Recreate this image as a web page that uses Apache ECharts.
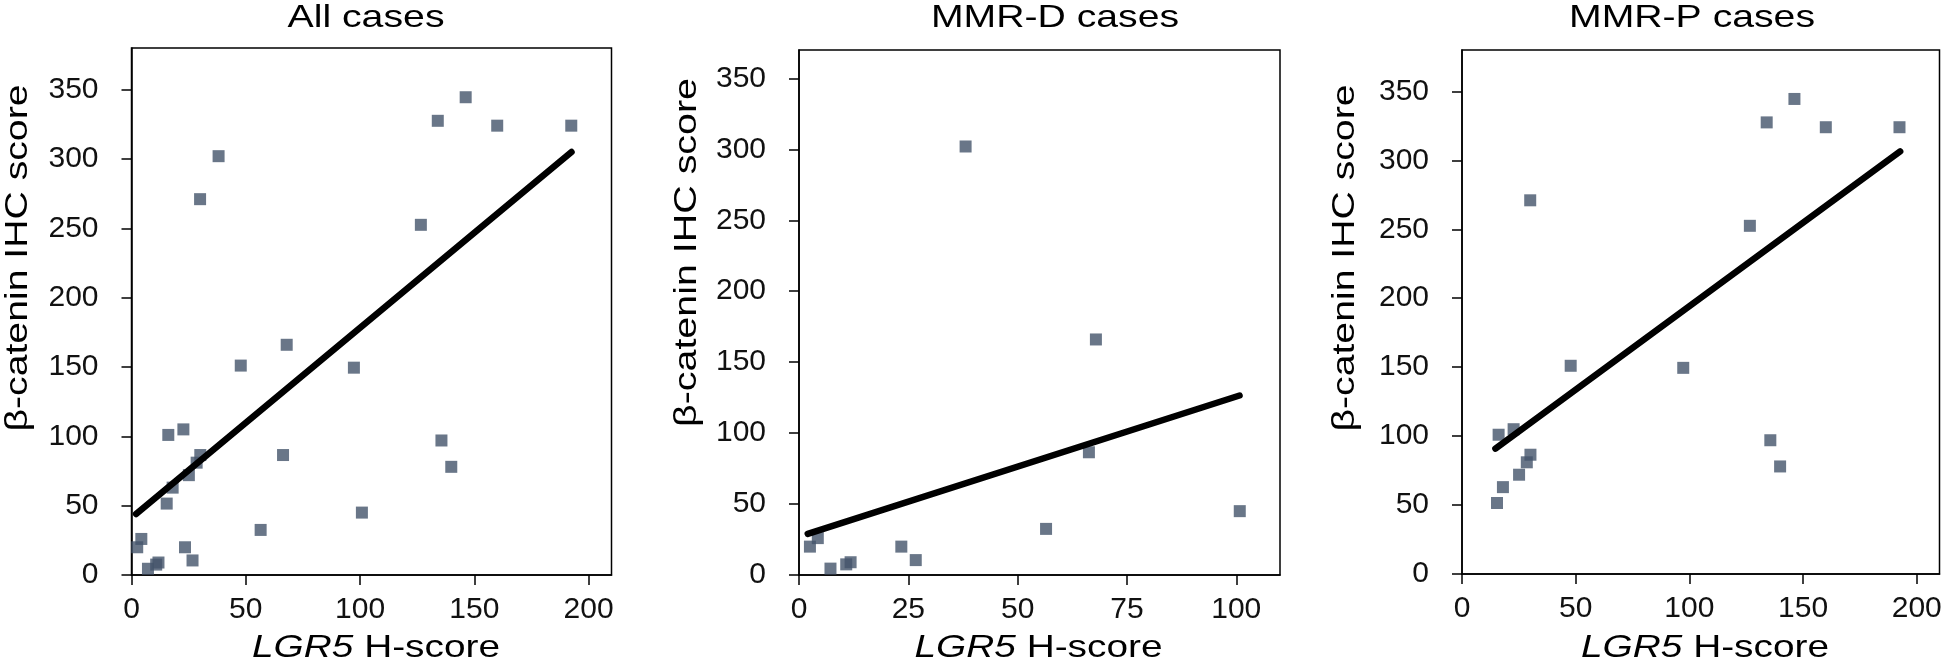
<!DOCTYPE html>
<html><head><meta charset="utf-8">
<script src="https://cdn.jsdelivr.net/npm/echarts@6.0.0/dist/echarts.min.js"></script>
<style>html,body{margin:0;padding:0;background:#fff}#c{width:1946px;height:663px}</style>
</head><body><div id="c"></div>
<script>
// ---- text ----
const panelTitles = ['All cases', 'MMR-D cases', 'MMR-P cases'];
const yAxisTitle = 'β-catenin IHC score';
const xAxisTitleItalic = 'LGR5';
const xAxisTitleRest = ' H-score';

// ---- data (LGR5 H-score, beta-catenin IHC score) ----
const mmrdX = [2.5, 4.3, 7.2, 10.8, 11.8, 23.4, 26.7, 38.1, 56.5, 66.3, 67.9, 100.8];
const mmrdY = [20, 26, 4.5, 7.5, 9, 20, 10.5, 302, 32.5, 86.5, 166, 45];
const mmrpX = [15.4, 16.1, 18, 22.7, 25.1, 28.5, 30.1, 30, 47.8, 97.3, 126.6, 134, 135.6, 139.9, 146.2, 160, 192.4];
const mmrpY = [51.5, 101, 63, 105, 72, 81, 86.5, 271, 151, 149.5, 252.5, 327.5, 97, 78, 344.5, 324, 324];

// trend line end points
const fitAll = [[2, 44], [192.5, 305]];
const fitMmrd = [[2, 29], [100.75, 126.5]];
const fitMmrp = [[14.7, 91], [192.7, 306.5]];

// ---- tick labels ----
const xTicksWide = [0, 50, 100, 150, 200];
const xTicksD = [0, 25, 50, 75, 100];
const yTicks = [0, 50, 100, 150, 200, 250, 300, 350];
const xMaxes = [210, 110, 210];
const yMaxes = [380, 370, 380];

const allX = mmrdX.concat(mmrpX);
const allY = mmrdY.concat(mmrpY);
const pairs = (xs, ys) => xs.map((x, i) => [x, ys[i]]);

const FONT = 'Liberation Sans, Arial, sans-serif';
const grids = [
  {left: 131.5, top: 48, width: 480, height: 527},
  {left: 799, top: 50, width: 481, height: 525},
  {left: 1462, top: 50, width: 477.5, height: 524}
];
const xTickSets = [xTicksWide, xTicksD, xTicksWide];
const scatterData = [pairs(allX, allY), pairs(mmrdX, mmrdY), pairs(mmrpX, mmrpY)];
const fits = [fitAll, fitMmrd, fitMmrp];

// text measuring helper (to stretch titles like the original figure)
const mctx = document.createElement('canvas').getContext('2d');
function textW(str, size, italic) {
  mctx.font = (italic ? 'italic ' : '') + size + 'px "Liberation Sans", Arial, sans-serif';
  return mctx.measureText(str).width;
}

const option = {
  animation: false,
  backgroundColor: '#fff',
  grid: grids.map(g => Object.assign({show: true, borderColor: '#000', borderWidth: 1.5, backgroundColor: 'transparent'}, g)),
  xAxis: grids.map((g, i) => ({
    type: 'value', gridIndex: i, min: 0, max: xMaxes[i], interval: i === 1 ? 25 : 50,
    axisLine: {show: true, onZero: false, lineStyle: {color: '#000', width: 1.5}},
    axisTick: {show: true, length: 10, lineStyle: {color: '#000', width: 1.5}, customValues: xTickSets[i]},
    axisLabel: {show: true, margin: 20, fontSize: 30, fontFamily: FONT, color: '#111', customValues: xTickSets[i]},
    splitLine: {show: false}
  })),
  yAxis: grids.map((g, i) => ({
    type: 'value', gridIndex: i, min: 0, max: yMaxes[i], interval: 50,
    axisLine: {show: true, onZero: false, lineStyle: {color: '#000', width: 1.5}},
    axisTick: {show: true, length: 10, lineStyle: {color: '#000', width: 1.5}, customValues: yTicks},
    axisLabel: {show: true, margin: 33, fontSize: 30, fontFamily: FONT, color: '#111', customValues: yTicks},
    splitLine: {show: false}
  })),
  series: [],
  graphic: []
};

for (let i = 0; i < 3; i++) {
  option.series.push({
    type: 'scatter', xAxisIndex: i, yAxisIndex: i, data: scatterData[i],
    symbol: 'rect', symbolSize: 12, itemStyle: {color: '#44546a'}, z: 2
  });
  option.series.push({
    type: 'line', xAxisIndex: i, yAxisIndex: i, data: fits[i],
    symbol: 'none', lineStyle: {color: '#000', width: 6.5, cap: 'round'}, z: 3
  });
}

const titleX = [366, 1055, 1692];
const titleW = [157, 248, 246];
const yTitlePos = [[18.5, 258], [687.5, 252.5], [1345.5, 258]];
const yTitleLen = [347, 349, 347];
const xTitleX = [376, 1038.5, 1705];
const xTitleW = [248, 248, 248];
const TS = 32;
const yNatural = textW(yAxisTitle, TS, false);
const xNatural = textW(xAxisTitleItalic, TS, true) + textW(xAxisTitleRest, TS, false);
const txtStyle = (t) => ({text: t, fontSize: TS, fontFamily: FONT, fill: '#000',
  align: 'center', verticalAlign: 'middle', textAlign: 'center', textVerticalAlign: 'middle'});
for (let i = 0; i < 3; i++) {
  option.graphic.push({
    type: 'text', x: titleX[i], y: 18, scaleX: titleW[i] / textW(panelTitles[i], TS, false),
    style: txtStyle(panelTitles[i])
  });
  option.graphic.push({
    type: 'text', x: yTitlePos[i][0], y: yTitlePos[i][1], rotation: Math.PI / 2,
    scaleX: yTitleLen[i] / yNatural,
    style: txtStyle(yAxisTitle)
  });
  const xs = txtStyle('{i|' + xAxisTitleItalic + '}{r|' + xAxisTitleRest + '}');
  xs.rich = {
    i: {fontStyle: 'italic', fontSize: TS, fontFamily: FONT, fill: '#000'},
    r: {fontSize: TS, fontFamily: FONT, fill: '#000'}
  };
  option.graphic.push({
    type: 'text', x: xTitleX[i], y: 648, scaleX: xTitleW[i] / xNatural,
    style: xs
  });
}

const chart = echarts.init(document.getElementById('c'), null, {renderer: 'canvas', width: 1946, height: 663});
chart.setOption(option);
</script></body></html>
